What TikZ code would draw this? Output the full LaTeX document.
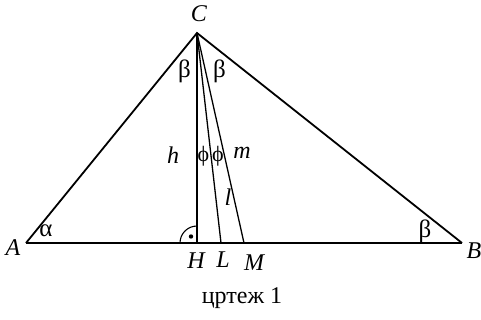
\documentclass[tikz,border=0pt]{standalone}
\usepackage{fontspec}
\setmainfont{Liberation Serif}
\begin{document}
\begin{tikzpicture}[x=1pt,y=-1pt,
  side/.style={line width=1.8pt},
  inner/.style={line width=1.3pt},
  lbl/.style={inner sep=0pt,font=\fontsize{24}{26}\selectfont\itshape},
  gr/.style={inner sep=0pt,font=\fontsize{25}{27}\selectfont},
  phi/.style={inner sep=0pt,font=\fontsize{22}{24}\selectfont}]
\useasboundingbox (0,0) rectangle (481,320);
\coordinate (A) at (26,243);
\coordinate (B) at (462,243);
\coordinate (C) at (197,33);
\coordinate (H) at (197,243);
\coordinate (L) at (221,243);
\coordinate (M) at (244,243);
\draw[side,line join=miter] (A) -- (C) -- (B);
\draw[line width=2.4pt] (A) -- (B);
\draw[inner] (C) -- (H);
\draw[inner] (C) -- (L);
\draw[inner] (C) -- (M);
\draw[line width=1.1pt] (180,243) arc[start angle=180,end angle=270,radius=17];
\fill (191,236.5) circle[radius=2.2pt];
\node[lbl] (lC) at (199,14) {C};
\node[lbl] (lA) at (13,248) {A};
\node[lbl] (lB) at (474,251) {B};
\node[lbl] (lH) at (196,261) {H};
\node[lbl] (lL) at (223,260) {L};
\node[lbl] (lM) at (254,263) {M};
\node[lbl] (lh) at (173,155) {h};
\node[lbl] (lm) at (242,153) {m};
\node[lbl] (ll) at (228,197) {l};
\node[gr] (al) at (46,231) {α};
\node[gr] (bB) at (425,231) {β};
\node[gr] (bC1) at (184.5,71) {β};
\node[gr] (bC2) at (219.5,71) {β};
\node[phi] (p1) at (203.5,156) {ϕ};
\node[phi] (p2) at (218,156) {ϕ};
\node[inner sep=0pt,font=\fontsize{24}{26}\selectfont] (cap) at (242,298) {цртеж 1};
\end{tikzpicture}
\end{document}
